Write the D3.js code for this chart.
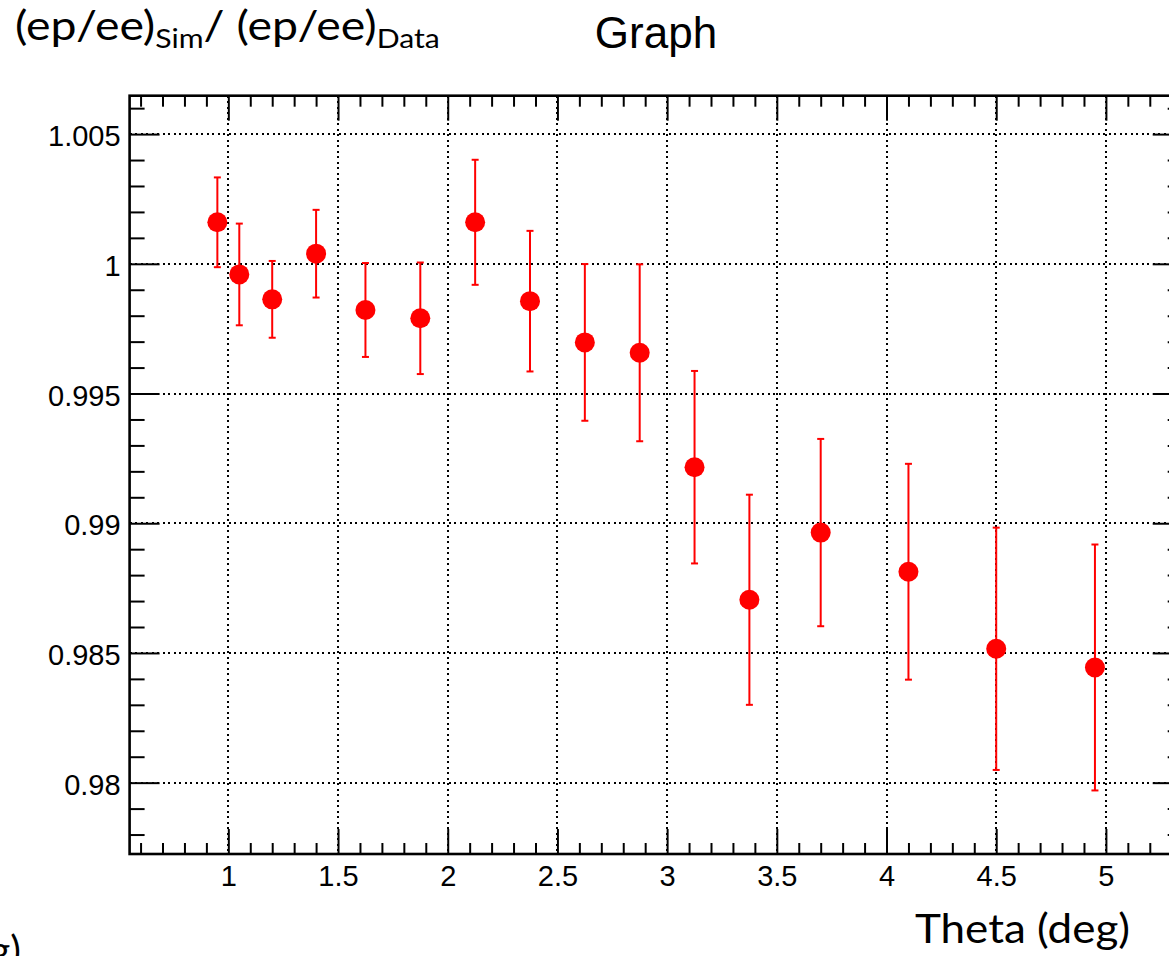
<!DOCTYPE html>
<html>
<head>
<style>
  body { margin: 0; background: #fff; }
  svg { display: block; }
  .tick text { font-family: "Liberation Sans", Arial, sans-serif; font-size: 29px; fill: #000; }
  .tick line { stroke: #000; stroke-width: 2; }
  .grid line { stroke: #000; stroke-width: 2; stroke-dasharray: 2 3.5; shape-rendering: crispEdges; }
</style>
<script src="https://d3js.org/d3.v7.min.js"></script>
</head>
<body>
<script>
// theta bins (deg) and the sim/data ratio with its error
const thetaDeg = [0.95, 1.05, 1.2, 1.4, 1.625, 1.875, 2.125, 2.375, 2.625, 2.875, 3.125, 3.375, 3.7, 4.1, 4.5, 4.95];
const ratio = [1.0016, 0.99959, 0.99863, 1.00039, 0.99822, 0.9979, 1.0016, 0.99856, 0.99697, 0.99657, 0.99216, 0.98705, 0.98964, 0.98813, 0.98516, 0.98444];
const ratioErr = [0.00173, 0.00196, 0.00148, 0.00169, 0.00181, 0.00215, 0.00241, 0.00271, 0.00302, 0.00341, 0.00371, 0.00405, 0.00361, 0.00416, 0.00467, 0.00474];

const xMajor = [1, 1.5, 2, 2.5, 3, 3.5, 4, 4.5, 5];
const yMajor = [0.98, 0.985, 0.99, 0.995, 1, 1.005];
const xLabels = ["1", "1.5", "2", "2.5", "3", "3.5", "4", "4.5", "5"];
const yLabels = ["0.98", "0.985", "0.99", "0.995", "1", "1.005"];

const w = 1169, h = 956;
const padL = 129.6, padR = 1182.7, padT = 95.7, padB = 854;

const svg = d3.select("body").append("svg").attr("width", w).attr("height", h);

const x = d3.scaleLinear().domain([0.55, 5.35]).range([padL, padR]);
const y = d3.scaleLinear().domain([0.97725, 1.00648]).range([padB, padT]);

const xMinor = d3.range(6, 54).map(d => d / 10).filter(d => !xMajor.some(m => Math.abs(m - d) < 1e-9));
const yMinor = d3.range(978, 1007).map(d => d / 1000).filter(d => !yMajor.some(m => Math.abs(m - d) < 1e-9));

// dotted grid
const grid = svg.append("g").attr("class", "grid");
grid.selectAll(".gx").data(xMajor).enter().append("line")
  .attr("x1", d => x(d)).attr("x2", d => x(d)).attr("y1", padT).attr("y2", padB);
grid.selectAll(".gy").data(yMajor).enter().append("line")
  .attr("y1", d => y(d)).attr("y2", d => y(d)).attr("x1", padL).attr("x2", padR);

function addAxis(axis, tx, ty) {
  const g = svg.append("g").attr("transform", `translate(${tx},${ty})`).call(axis);
  g.select(".domain").remove();
  return g;
}

// bottom
addAxis(d3.axisBottom(x).tickValues(xMajor).tickSize(-25).tickPadding(11)
  .tickFormat((d, i) => xLabels[i]), 0, padB);
addAxis(d3.axisBottom(x).tickValues(xMinor).tickSize(-11).tickFormat(""), 0, padB);
// top
addAxis(d3.axisTop(x).tickValues(xMajor).tickSize(-25).tickFormat(""), 0, padT);
addAxis(d3.axisTop(x).tickValues(xMinor).tickSize(-11).tickFormat(""), 0, padT);
// left
const yl = addAxis(d3.axisLeft(y).tickValues(yMajor).tickSize(-30).tickPadding(9)
  .tickFormat((d, i) => yLabels[i]), padL, 0);
yl.selectAll("text").attr("dy", "0.4em");
addAxis(d3.axisLeft(y).tickValues(yMinor).tickSize(-15).tickFormat(""), padL, 0);
// right
addAxis(d3.axisRight(y).tickValues(yMajor).tickSize(-30).tickFormat(""), padR, 0);
addAxis(d3.axisRight(y).tickValues(yMinor).tickSize(-15).tickFormat(""), padR, 0);

// frame
svg.append("rect")
  .attr("x", padL).attr("y", padT)
  .attr("width", padR - padL).attr("height", padB - padT)
  .attr("fill", "none").attr("stroke", "#000").attr("stroke-width", 2.6);

// points with error bars
const pts = thetaDeg.map((t, i) => ({ t: t, v: ratio[i], e: ratioErr[i] }));
const eb = svg.append("g").attr("stroke", "#ff0000").attr("stroke-width", 2);
eb.selectAll(".bar").data(pts).enter().append("line")
  .attr("x1", d => x(d.t)).attr("x2", d => x(d.t))
  .attr("y1", d => y(d.v - d.e)).attr("y2", d => y(d.v + d.e));
eb.selectAll(".capT").data(pts).enter().append("line")
  .attr("x1", d => x(d.t) - 3.5).attr("x2", d => x(d.t) + 3.5)
  .attr("y1", d => y(d.v + d.e)).attr("y2", d => y(d.v + d.e));
eb.selectAll(".capB").data(pts).enter().append("line")
  .attr("x1", d => x(d.t) - 3.5).attr("x2", d => x(d.t) + 3.5)
  .attr("y1", d => y(d.v - d.e)).attr("y2", d => y(d.v - d.e));

svg.append("g").selectAll("circle").data(pts).enter().append("circle")
  .attr("cx", d => x(d.t)).attr("cy", d => y(d.v)).attr("r", 10)
  .attr("fill", "#ff0000");

// titles
svg.append("text").attr("x", 656).attr("y", 48).attr("text-anchor", "middle")
  .style("font-family", "'Liberation Sans', Arial, sans-serif").style("font-size", "44px")
  .text("Graph");

const yt = svg.append("text").attr("x", 15).attr("y", 40)
  .style("font-family", "Lato, sans-serif").style("font-size", "40px");
yt.append("tspan").text("(ep/ee)");
yt.append("tspan").attr("dy", 8).style("font-size", "26px").text("Sim");
yt.append("tspan").attr("dy", -8).text("/ (ep/ee)");
yt.append("tspan").attr("dy", 8).style("font-size", "26px").text("Data");
const bb = yt.node().getBBox();
yt.attr("transform", `translate(15,0) scale(${425 / bb.width},1) translate(-15,0)`);

svg.append("text").attr("x", 1130).attr("y", 943).attr("text-anchor", "end")
  .attr("textLength", 215).attr("lengthAdjust", "spacingAndGlyphs")
  .style("font-family", "Lato, sans-serif").style("font-size", "40px")
  .text("Theta (deg)");

// cut-off label at the lower left edge (clipped in the original too)
svg.append("text").attr("x", 21).attr("y", 965).attr("text-anchor", "end")
  .style("font-family", "Lato, sans-serif").style("font-size", "40px")
  .text("Theta (deg)");
</script>
</body>
</html>
